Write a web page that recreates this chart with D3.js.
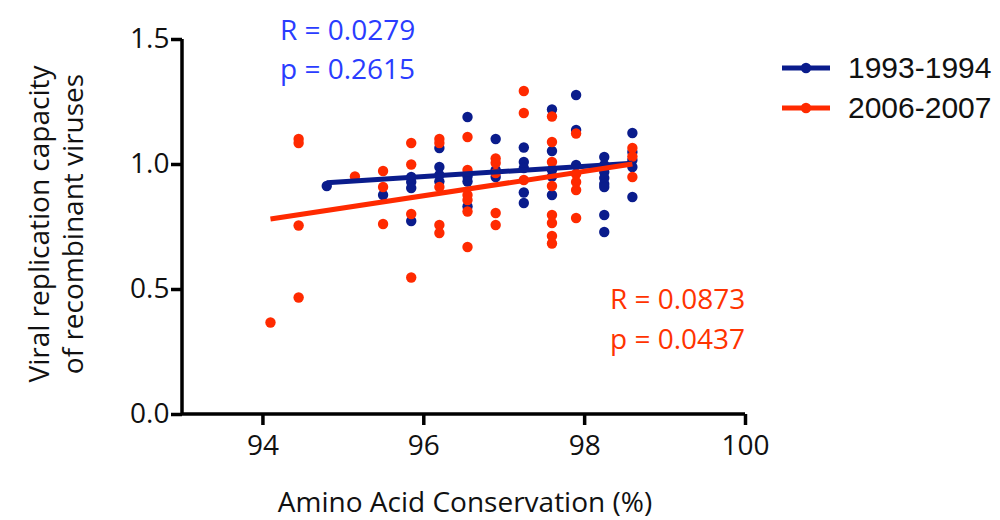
<!DOCTYPE html>
<html>
<head>
<meta charset="utf-8">
<script src="https://cdn.jsdelivr.net/npm/d3@7"></script>
<style>
  body { margin: 0; background: #fff; }
  svg text { font-family: "Open Sans", "Noto Sans", sans-serif; }
</style>
</head>
<body>
<div id="chart"></div>
<script>
// Conservation columns (%) and the replication capacity values in each column
var columns = [94.1, 94.45, 94.8, 95.15, 95.5, 95.85, 96.2, 96.55, 96.9, 97.25, 97.6, 97.9, 98.25, 98.6];

var blueValues = [
    [], [], [0.912], [], [0.876],
    [0.948, 0.928, 0.904, 0.772],
    [1.064, 0.988, 0.956, 0.93],
    [1.188, 0.95, 0.93, 0.83],
    [1.10, 0.976, 0.948],
    [1.066, 1.008, 0.984, 0.886, 0.844],
    [1.218, 1.052, 0.976, 0.95, 0.876],
    [1.276, 1.136, 0.996],
    [1.028, 0.996, 0.968, 0.944, 0.92, 0.908, 0.796, 0.728],
    [1.124, 1.048, 1.016, 0.988, 0.868]
];

var redValues = [
    [0.366],
    [1.10, 1.084, 0.754, 0.466],
    [], [0.95],
    [0.972, 0.908, 0.76],
    [1.084, 0.998, 0.80, 0.546],
    [1.10, 1.084, 0.908, 0.756, 0.724],
    [1.108, 0.976, 0.876, 0.856, 0.81, 0.668],
    [1.022, 1.004, 0.964, 0.804, 0.756],
    [1.292, 1.204, 0.936],
    [1.19, 1.088, 1.008, 0.912, 0.796, 0.764, 0.712, 0.682],
    [1.122, 0.96, 0.928, 0.896, 0.784],
    [],
    [1.064, 1.03, 0.948]
];

// Fitted lines, endpoints
var blueFit = [[94.8, 0.925], [98.6, 1.003]];
var redFit = [[94.1, 0.78], [98.6, 1.0]];

var seriesNames = ["1993-1994", "2006-2007"];
var xTicks = [94, 96, 98, 100];
var yTicks = [0, 0.5, 1.0, 1.5];

var blue = "#0a1c8c", red = "#ff2a00";

function flatten(vals) {
    var pts = [];
    vals.forEach(function(col, i) {
        col.forEach(function(v) { pts.push({x: columns[i], y: v}); });
    });
    return pts;
}

var width = 1000, height = 520;
var svg = d3.select("#chart").append("svg")
    .attr("width", width).attr("height", height);

var x = d3.scaleLinear().domain([93, 100]).range([182, 745]);
var y = d3.scaleLinear().domain([0, 1.5]).range([414, 39]);

// Axes
var xAxis = d3.axisBottom(x).tickValues(xTicks).tickSize(11).tickFormat(d3.format("d"));
var yAxis = d3.axisLeft(y).tickValues(yTicks).tickSize(11).tickFormat(d3.format(".1f"));

var gx = svg.append("g").attr("transform", "translate(0," + y(0) + ")").call(xAxis);
var gy = svg.append("g").attr("transform", "translate(" + x(93) + ",0)").call(yAxis);

[gx, gy].forEach(function(g) {
    g.select(".domain").attr("stroke", "#000").attr("stroke-width", 3.5);
    g.selectAll(".tick line").attr("stroke", "#000").attr("stroke-width", 3.5);
    g.selectAll(".tick text").attr("fill", "#111").style("font-size", "28px")
        .style("font-family", "'Open Sans', sans-serif");
});
gx.select(".domain").attr("d", "M" + x(93) + ",0H" + x(100));
gy.select(".domain").attr("d", "M0," + y(0) + "V" + y(1.5));
gx.selectAll(".tick text").attr("dy", "0.95em");
gy.selectAll(".tick text").attr("dx", "0.05em");

// Points
svg.append("g").selectAll("circle")
    .data(flatten(blueValues)).enter().append("circle")
    .attr("cx", function(d) { return x(d.x); })
    .attr("cy", function(d) { return y(d.y); })
    .attr("r", 5.2).attr("fill", blue);

svg.append("g").selectAll("circle")
    .data(flatten(redValues)).enter().append("circle")
    .attr("cx", function(d) { return x(d.x); })
    .attr("cy", function(d) { return y(d.y); })
    .attr("r", 5.2).attr("fill", red);

// Fit lines
var line = d3.line().x(function(d) { return x(d[0]); }).y(function(d) { return y(d[1]); });
svg.append("path").attr("d", line(blueFit)).attr("stroke", blue).attr("stroke-width", 5).attr("fill", "none");
svg.append("path").attr("d", line(redFit)).attr("stroke", red).attr("stroke-width", 5).attr("fill", "none");

// Stats text
var statSize = "28px";
svg.append("text").attr("x", 280).attr("y", 40).attr("fill", "#2a3cff").style("font-size", statSize).text("R = 0.0279");
svg.append("text").attr("x", 280).attr("y", 79).attr("fill", "#2a3cff").style("font-size", statSize).text("p = 0.2615");
svg.append("text").attr("x", 610).attr("y", 309).attr("fill", "#ff3300").style("font-size", statSize).text("R = 0.0873");
svg.append("text").attr("x", 610).attr("y", 349).attr("fill", "#ff3300").style("font-size", statSize).text("p = 0.0437");

// Axis titles
svg.append("text").attr("text-anchor", "middle")
    .attr("transform", "translate(49,224) rotate(-90)")
    .style("font-size", "28px").attr("fill", "#111").text("Viral replication capacity");
svg.append("text").attr("text-anchor", "middle")
    .attr("transform", "translate(83,224) rotate(-90)")
    .style("font-size", "28px").attr("fill", "#111").text("of recombinant viruses");
svg.append("text").attr("text-anchor", "middle")
    .attr("x", 465).attr("y", 512)
    .style("font-size", "28px").attr("fill", "#111").text("Amino Acid Conservation (%)");

// Legend
var legend = svg.append("g");
[blue, red].forEach(function(c, i) {
    var ly = 68 + i * 40;
    legend.append("line").attr("x1", 782).attr("x2", 830).attr("y1", ly).attr("y2", ly)
        .attr("stroke", c).attr("stroke-width", 5);
    legend.append("circle").attr("cx", 806).attr("cy", ly).attr("r", 5.2).attr("fill", c);
    legend.append("text").attr("x", 848).attr("y", ly + 10)
        .style("font-family", "'Liberation Sans', Arial, sans-serif")
        .style("font-size", "30px").attr("fill", "#111").text(seriesNames[i]);
});
</script>
</body>
</html>
